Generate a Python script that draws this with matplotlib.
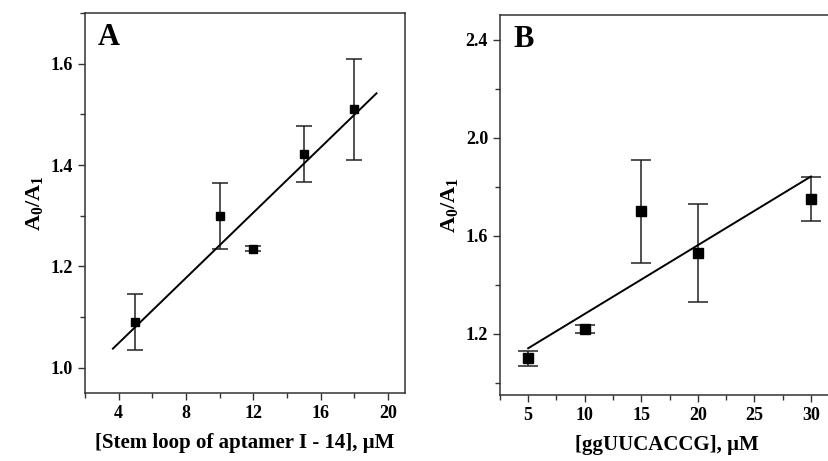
import numpy as np
import matplotlib
matplotlib.use("Agg")
import matplotlib.pyplot as plt
from matplotlib.ticker import MultipleLocator

plt.rcParams['font.family'] = ['Liberation Serif', 'DejaVu Serif']
plt.rcParams['font.weight'] = 'bold'
plt.rcParams['mathtext.fontset'] = 'custom'
plt.rcParams['mathtext.rm'] = 'Liberation Serif:bold'
plt.rcParams['mathtext.default'] = 'rm'

# panel A data
conc_a = [5, 10, 12, 15, 18]
ratio_a = [1.09, 1.30, 1.235, 1.421, 1.51]
err_a = [0.055, 0.065, 0.005, 0.055, 0.10]
fit_a = (0.0322, 0.9197)          # slope, intercept
fit_a_range = (3.66, 19.31)

# panel B data
conc_b = [5, 10, 15, 20, 30]
ratio_b = [1.10, 1.22, 1.70, 1.53, 1.75]
err_b = [0.03, 0.016, 0.21, 0.20, 0.09]
fit_b = (0.02804, 1.0008)
fit_b_range = (5, 30)

fig = plt.figure(figsize=(8.29, 4.61), dpi=100)
ax_a = fig.add_axes([0.1025, 0.1475, 0.386, 0.8243])
ax_b = fig.add_axes([0.603, 0.143, 0.4025, 0.824])


def panel(ax, x, y, e, fit, frange, letter, ms, cap):
    ax.errorbar(x, y, yerr=e, fmt='s', color='black', ms=ms,
                ecolor='#222222', elinewidth=1.1, capsize=cap, capthick=1.1)
    xs = np.array(frange)
    ax.plot(xs, fit[0] * xs + fit[1], color='black', lw=1.4)
    ax.text(0.04, 0.975, letter, transform=ax.transAxes, fontsize=22,
            fontweight='bold', va='top', ha='left')
    for s in ax.spines.values():
        s.set_linewidth(1.1)
        s.set_color('#333333')
    ax.tick_params(which='both', direction='out', labelsize=13, width=1.0,
                   color='#333333')
    ax.tick_params(which='major', length=5)
    ax.tick_params(which='minor', length=3.5)
    ax.set_ylabel('A$_0$/A$_1$', fontsize=16, fontweight='bold')
    ax.yaxis.set_major_formatter(plt.FuncFormatter(lambda v, p: f'{v:.1f}'))


panel(ax_a, conc_a, ratio_a, err_a, fit_a, fit_a_range, 'A', 6, 6)
ax_a.set_xlim(2, 21)
ax_a.set_ylim(0.95, 1.70)
ax_a.xaxis.set_major_locator(MultipleLocator(4))
ax_a.xaxis.set_minor_locator(MultipleLocator(2))
ax_a.yaxis.set_major_locator(MultipleLocator(0.2))
ax_a.yaxis.set_minor_locator(MultipleLocator(0.1))
ax_a.set_xlabel('[Stem loop of aptamer I - 14], µM', fontsize=15,
                fontweight='bold', labelpad=8)

panel(ax_b, conc_b, ratio_b, err_b, fit_b, fit_b_range, 'B', 7, 7)
ax_b.set_xlim(2.5, 32)
ax_b.set_ylim(0.95, 2.5)
ax_b.xaxis.set_major_locator(MultipleLocator(5))
ax_b.xaxis.set_minor_locator(MultipleLocator(2.5))
ax_b.yaxis.set_major_locator(MultipleLocator(0.4))
ax_b.yaxis.set_minor_locator(MultipleLocator(0.2))
ax_b.set_xlabel('[ggUUCACCG], µM', fontsize=15, fontweight='bold',
                labelpad=8)

fig.savefig('out.png', dpi=100)
